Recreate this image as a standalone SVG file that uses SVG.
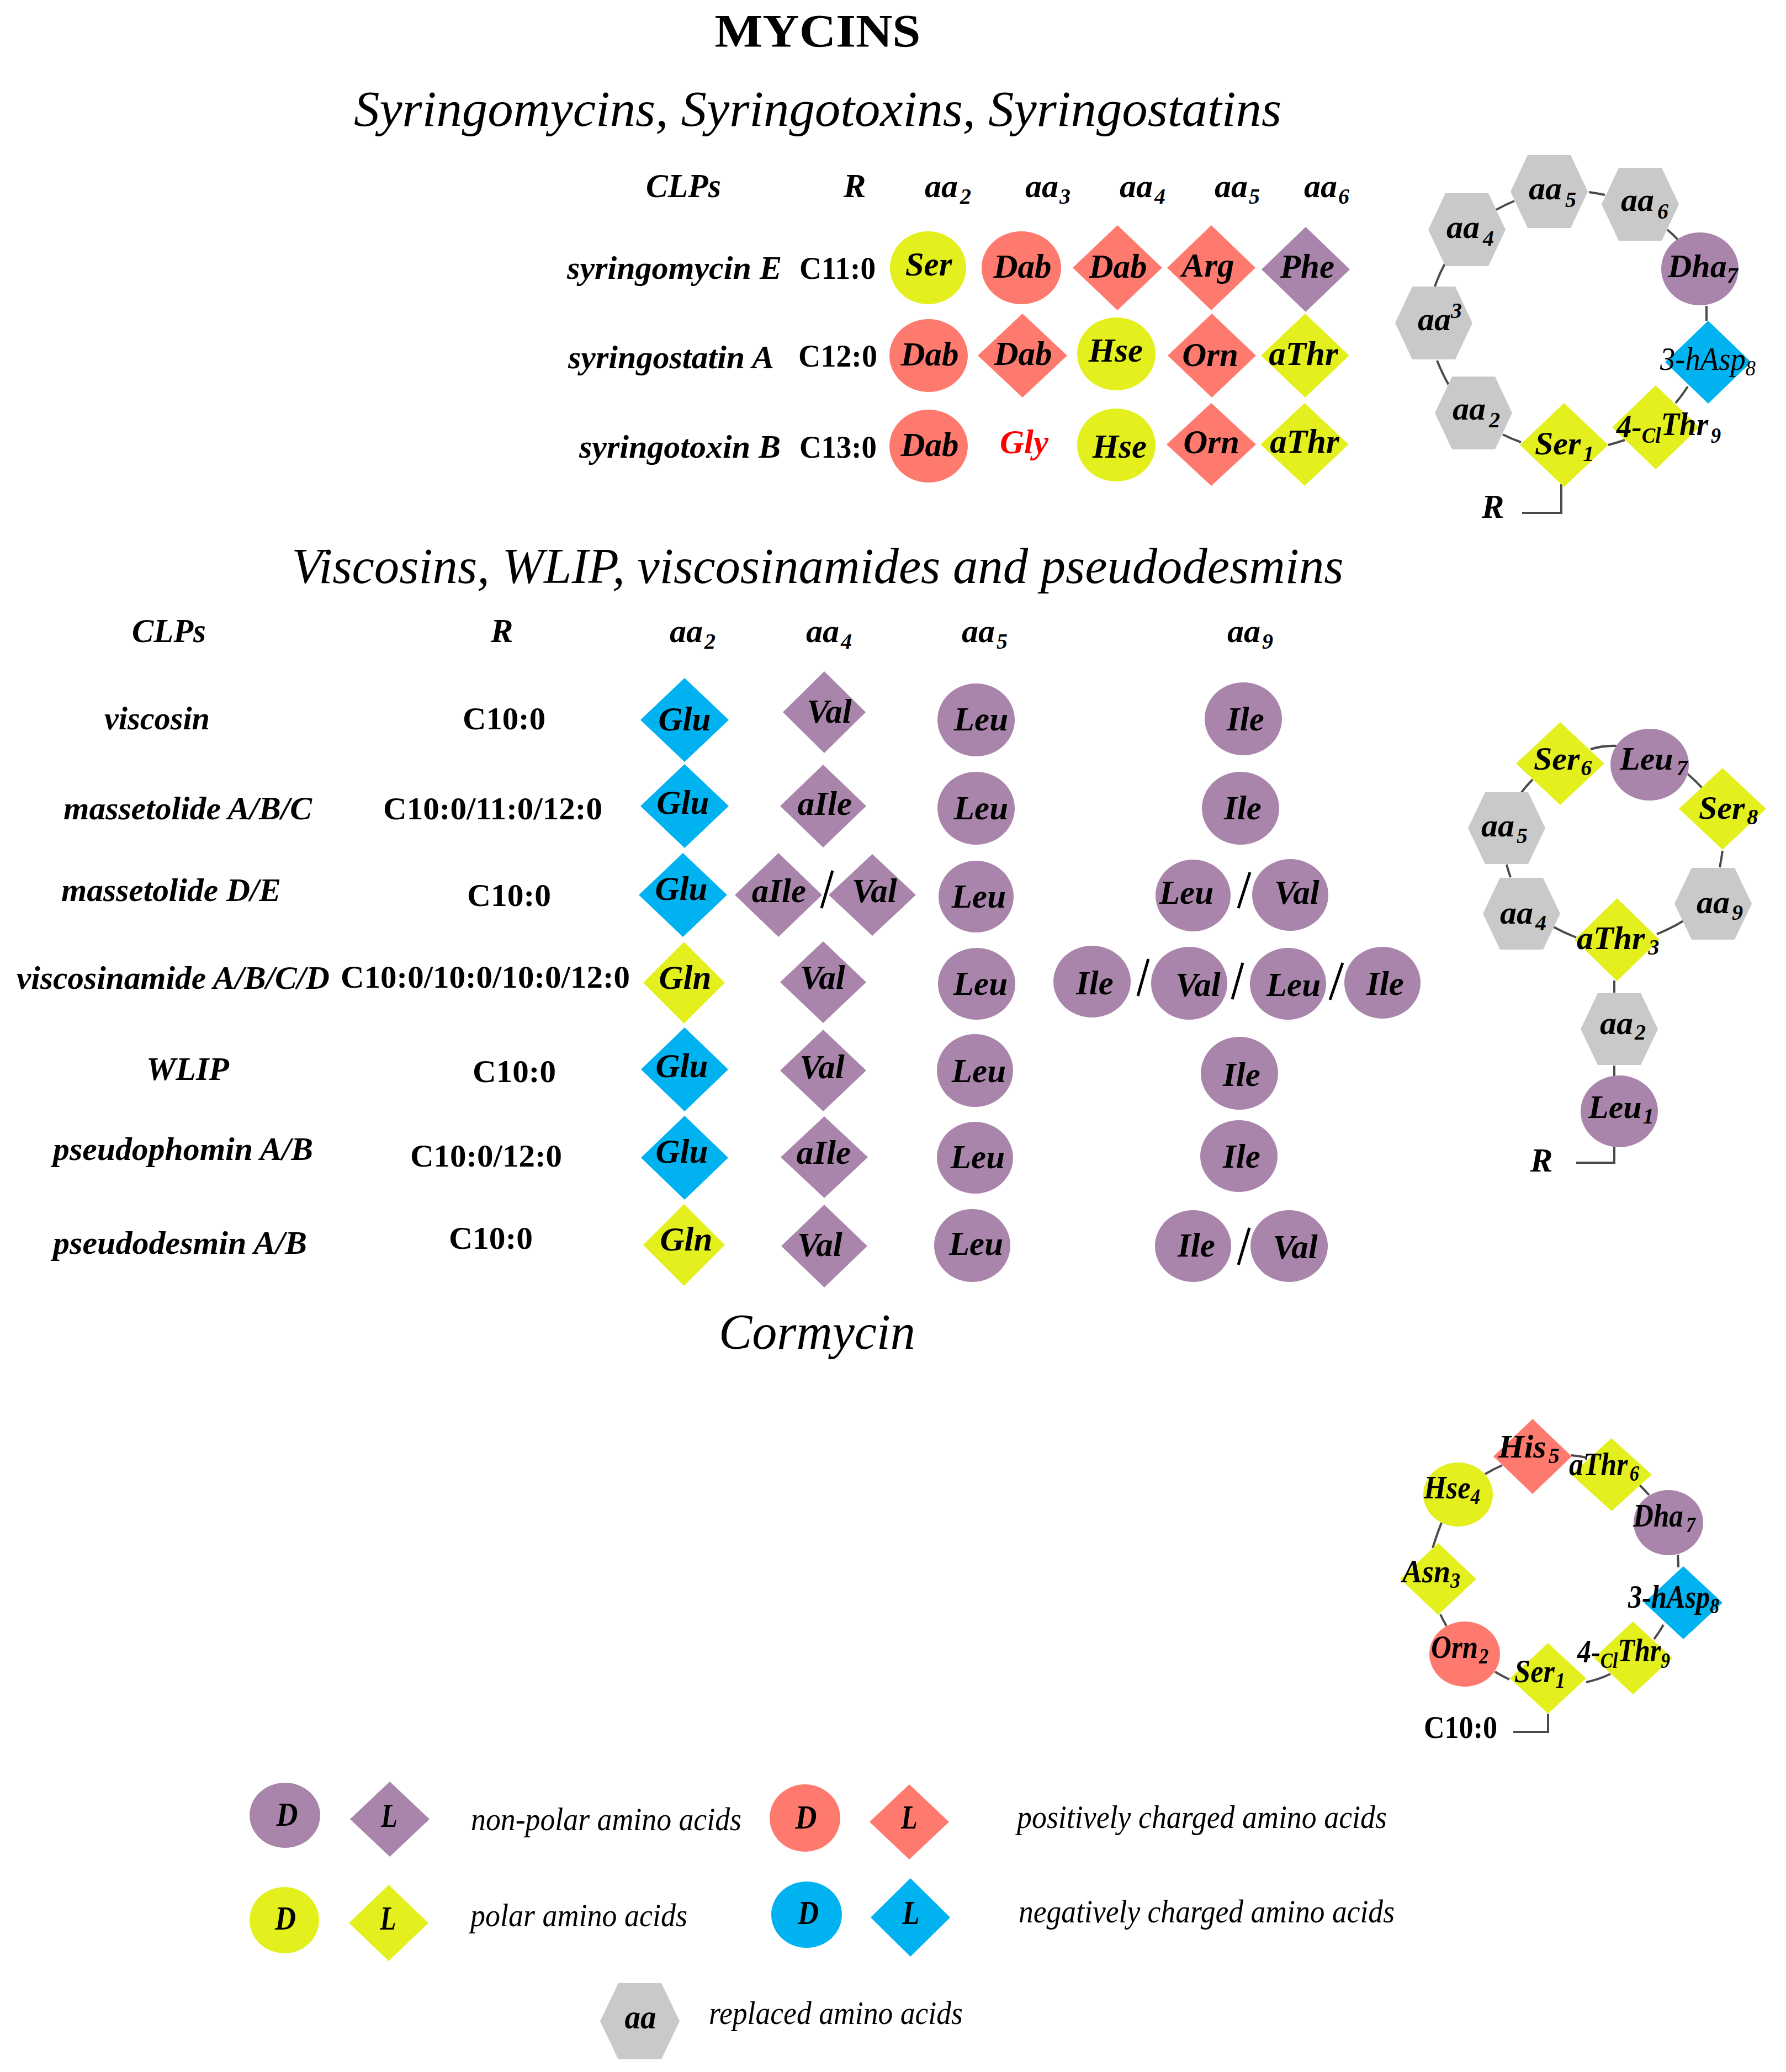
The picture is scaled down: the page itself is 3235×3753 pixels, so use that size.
<svg xmlns="http://www.w3.org/2000/svg" width="3235" height="3753" viewBox="0 0 3235 3753">
<style>
text{font-family:"Liberation Serif","Times New Roman",serif;fill:#000}
.pu{fill:#A985AB}.re{fill:#FF7A6E}.ye{fill:#E3F01E}.bl{fill:#00B2F0}.gr{fill:#C9C9C9}
.h1{font-size:84px;font-weight:bold;text-anchor:middle}
.h2{font-size:92px;font-style:italic;text-anchor:middle}
.n{font-size:61px;font-weight:bold;font-style:italic;text-anchor:middle}
.l{font-size:60px;font-weight:bold;font-style:italic;text-anchor:start}
.r{font-size:57px;font-weight:bold;text-anchor:start}
.c{font-size:60px;font-weight:bold;font-style:italic;text-anchor:start}
.thin{font-weight:normal}
.sub{font-size:40px}
.leg{font-size:60px;font-style:italic;text-anchor:start}
.slash{stroke:#000;stroke-width:5;fill:none}
.conn{stroke:#4a4a4a;stroke-width:4;fill:none}
</style>
<rect width="3235" height="3753" fill="#fff"/>
<text class="h1" x="1481" y="85" textLength="373" lengthAdjust="spacingAndGlyphs">MYCINS</text>
<text class="h2" x="1481" y="228" textLength="1680" lengthAdjust="spacingAndGlyphs">Syringomycins, Syringotoxins, Syringostatins</text>
<text class="h2" x="1481" y="1056" textLength="1905" lengthAdjust="spacingAndGlyphs">Viscosins, WLIP, viscosinamides and pseudodesmins</text>
<text class="h2" x="1480" y="2443" textLength="356" lengthAdjust="spacingAndGlyphs">Cormycin</text>

<g id="connectors">
<path class="conn" d="M2878 348Q2893 350 2907 353M2710 380Q2726 371 2743 364M2617 478Q2606 498 2599 519M2603 653Q2612 676 2624 697M2722 787Q2738 795 2755 801M2913 806Q2928 802 2943 797M3035 730Q3047 716 3057 700M3091 581V554M3020 416Q3031 425 3040 435"/>
<path class="conn" d="M2828 877V929H2757"/>
<path class="conn" d="M2881 1357Q2904 1350 2928 1351M3057 1402Q3071 1414 3083 1427M3120 1541Q3118 1556 3115 1571M3049 1668Q3026 1682 3001 1692M2855 1698Q2834 1690 2814 1679M2736 1589Q2732 1578 2729 1566M2756 1435Q2765 1423 2776 1412M2924 1776V1798M2924 1930V1949"/>
<path class="conn" d="M2924 2078V2106H2855"/>
<path class="conn" d="M2690 2670Q2705 2661 2721 2654M2846 2636Q2860 2637 2873 2640M2970 2690Q2979 2699 2987 2708M3039 2816Q3040 2828 3040 2839M3013 2943Q3005 2957 2996 2969M2917 3032Q2896 3042 2873 3047M2734 3042Q2721 3036 2708 3028M2620 2945Q2614 2935 2609 2924M2595 2804Q2602 2781 2611 2758"/>
<path class="conn" d="M2804 3104V3137H2741"/>
</g>

<g id="syr-header">
<text class="n" x="1238" y="357" textLength="136" lengthAdjust="spacingAndGlyphs">CLPs</text>
<text class="n" x="1548" y="357">R</text>
<text class="c" x="1675" y="357">aa<tspan class="sub" dx="4" dy="12">2</tspan></text>
<text class="c" x="1857" y="357">aa<tspan class="sub" dx="2" dy="12">3</tspan></text>
<text class="c" x="2028" y="357">aa<tspan class="sub" dx="3" dy="12">4</tspan></text>
<text class="c" x="2200" y="357">aa<tspan class="sub" dx="2" dy="12">5</tspan></text>
<text class="c" x="2362" y="357">aa<tspan class="sub" dx="2" dy="12">6</tspan></text>
</g>
<g id="syr-e">
<text class="l" x="1027" y="505" textLength="389" lengthAdjust="spacingAndGlyphs">syringomycin E</text>
<text class="r" x="1448" y="505" textLength="138" lengthAdjust="spacingAndGlyphs">C11:0</text>
</g>
<g id="syr-e-aa2"><ellipse class="ye" cx="1681" cy="485" rx="69" ry="66"/><text class="n" x="1682" y="499">Ser</text></g>
<g id="syr-e-aa3"><ellipse class="re" cx="1850" cy="485" rx="72" ry="66"/><text class="n" x="1852" y="503">Dab</text></g>
<g id="syr-e-aa4"><polygon class="re" points="1943,485 2024,408 2105,485 2024,562"/><text class="n" x="2025" y="503">Dab</text></g>
<g id="syr-e-aa5"><polygon class="re" points="2114,485 2194,408 2274,485 2194,562"/><text class="n" x="2188" y="501">Arg</text></g>
<g id="syr-e-aa6"><polygon class="pu" points="2285,488 2365,411 2445,488 2365,565"/><text class="n" x="2368" y="503">Phe</text></g>

<g id="syr-a">
<text class="l" x="1029" y="667" textLength="373" lengthAdjust="spacingAndGlyphs">syringostatin A</text>
<text class="r" x="1446" y="664" textLength="143" lengthAdjust="spacingAndGlyphs">C12:0</text>
</g>
<g id="syr-a-aa2"><ellipse class="re" cx="1682" cy="644" rx="71" ry="66"/><text class="n" x="1684" y="662">Dab</text></g>
<g id="syr-a-aa3"><polygon class="re" points="1771,644 1852,568 1933,644 1852,720"/><text class="n" x="1853" y="661">Dab</text></g>
<g id="syr-a-aa4"><ellipse class="ye" cx="2022" cy="641" rx="71" ry="66"/><text class="n" x="2021" y="655">Hse</text></g>
<g id="syr-a-aa5"><polygon class="re" points="2115,644 2195,568 2275,644 2195,720"/><text class="n" x="2192" y="663">Orn</text></g>
<g id="syr-a-aa6"><polygon class="ye" points="2284,644 2364,568 2444,644 2364,720"/><text class="n" x="2361" y="661">aThr</text></g>

<g id="syr-b">
<text class="l" x="1049" y="829" textLength="365" lengthAdjust="spacingAndGlyphs">syringotoxin B</text>
<text class="r" x="1448" y="829" textLength="140" lengthAdjust="spacingAndGlyphs">C13:0</text>
</g>
<g id="syr-b-aa2"><ellipse class="re" cx="1682" cy="808" rx="71" ry="66"/><text class="n" x="1684" y="826">Dab</text></g>
<g id="syr-b-aa3"><text class="n" x="1855" y="821" style="fill:#f00">Gly</text></g>
<g id="syr-b-aa4"><ellipse class="ye" cx="2022" cy="806" rx="71" ry="66"/><text class="n" x="2028" y="829">Hse</text></g>
<g id="syr-b-aa5"><polygon class="re" points="2113,805 2194,730 2275,805 2194,880"/><text class="n" x="2194" y="821">Orn</text></g>
<g id="syr-b-aa6"><polygon class="ye" points="2283,805 2363,730 2443,805 2363,880"/><text class="n" x="2363" y="820">aThr</text></g>

<g id="c1-aa5"><polygon class="gr" points="2736,347 2767,281 2845,281 2876,347 2845,413 2767,413"/><text class="c" x="2769" y="361">aa<tspan class="sub" dx="6" dy="14">5</tspan></text></g>
<g id="c1-aa6"><polygon class="gr" points="2901,370 2932,304 3010,304 3041,370 3010,436 2932,436"/><text class="c" x="2936" y="382">aa<tspan class="sub" dx="6" dy="14">6</tspan></text></g>
<g id="c1-aa4"><polygon class="gr" points="2587,416 2618,350 2696,350 2727,416 2696,482 2618,482"/><text class="c" x="2620" y="431">aa<tspan class="sub" dx="6" dy="14">4</tspan></text></g>
<g id="c1-aa3"><polygon class="gr" points="2527,585 2558,519 2636,519 2667,585 2636,651 2558,651"/><text class="c" x="2568" y="598">aa<tspan class="sub" dx="0" dy="-22">3</tspan></text></g>
<g id="c1-aa2"><polygon class="gr" points="2599,748 2630,682 2708,682 2739,748 2708,814 2630,814"/><text class="c" x="2631" y="760">aa<tspan class="sub" dx="6" dy="14">2</tspan></text></g>
<g id="c1-dha"><ellipse class="pu" cx="3079" cy="487" rx="70" ry="66"/><text class="c" x="3021" y="502">Dha<tspan class="sub" dy="10">7</tspan></text></g>
<g id="c1-hasp"><polygon class="bl" points="3016,656 3094,581 3172,656 3094,731"/><text class="c thin" x="3007" y="670" textLength="173" lengthAdjust="spacingAndGlyphs">3-hAsp<tspan class="sub" dy="10">8</tspan></text></g>
<g id="c1-cl"><polygon class="ye" points="2920,774 2999,698 3078,774 2999,850"/><text class="c" x="2928" y="792" textLength="189" lengthAdjust="spacingAndGlyphs">4-<tspan class="sub" dy="10">Cl</tspan><tspan dy="-14">Thr</tspan><tspan class="sub" dx="5" dy="14">9</tspan></text></g>
<g id="c1-ser"><polygon class="ye" points="2753,806 2833,730 2913,806 2833,882"/><text class="c" x="2780" y="823">Ser<tspan class="sub" dx="4" dy="12">1</tspan></text></g>
<g id="c1-r"><text class="n" x="2704" y="938">R</text></g>

<g id="visc-header">
<text class="n" x="306" y="1163" textLength="134" lengthAdjust="spacingAndGlyphs">CLPs</text>
<text class="n" x="909" y="1163">R</text>
<text class="c" x="1213" y="1163">aa<tspan class="sub" dx="3" dy="12">2</tspan></text>
<text class="c" x="1460" y="1163">aa<tspan class="sub" dx="3" dy="12">4</tspan></text>
<text class="c" x="1742" y="1163">aa<tspan class="sub" dx="3" dy="12">5</tspan></text>
<text class="c" x="2223" y="1163">aa<tspan class="sub" dx="3" dy="12">9</tspan></text>
</g>

<g id="viscosin">
<text class="l" x="189" y="1321" textLength="191" lengthAdjust="spacingAndGlyphs">viscosin</text>
<text class="r" x="838" y="1321" textLength="150" lengthAdjust="spacingAndGlyphs">C10:0</text>
</g>
<g id="viscosin-aa2"><polygon class="bl" points="1160,1304 1240,1228 1320,1304 1240,1380"/><text class="n" x="1240" y="1323">Glu</text></g>
<g id="viscosin-aa4"><polygon class="pu" points="1418,1290 1493,1216 1568,1290 1493,1364"/><text class="n" x="1502" y="1309">Val</text></g>
<g id="viscosin-aa5"><ellipse class="pu" cx="1768" cy="1304" rx="70" ry="66"/><text class="n" x="1777" y="1323">Leu</text></g>
<g id="viscosin-aa9"><ellipse class="pu" cx="2252" cy="1302" rx="70" ry="66"/><text class="n" x="2256" y="1323">Ile</text></g>

<g id="massA">
<text class="l" x="115" y="1484" textLength="450" lengthAdjust="spacingAndGlyphs">massetolide A/B/C</text>
<text class="r" x="694" y="1484" textLength="397" lengthAdjust="spacingAndGlyphs">C10:0/11:0/12:0</text>
</g>
<g id="massA-aa2"><polygon class="bl" points="1160,1460 1240,1384 1320,1460 1240,1536"/><text class="n" x="1237" y="1474">Glu</text></g>
<g id="massA-aa4"><polygon class="pu" points="1413,1460 1491,1385 1569,1460 1491,1535"/><text class="n" x="1494" y="1476">aIle</text></g>
<g id="massA-aa5"><ellipse class="pu" cx="1768" cy="1464" rx="70" ry="66"/><text class="n" x="1777" y="1484">Leu</text></g>
<g id="massA-aa9"><ellipse class="pu" cx="2247" cy="1464" rx="70" ry="66"/><text class="n" x="2251" y="1484">Ile</text></g>

<g id="massD">
<text class="l" x="111" y="1632" textLength="398" lengthAdjust="spacingAndGlyphs">massetolide D/E</text>
<text class="r" x="846" y="1641" textLength="152" lengthAdjust="spacingAndGlyphs">C10:0</text>
</g>
<g id="massD-aa2"><polygon class="bl" points="1157,1621 1237,1545 1317,1621 1237,1697"/><text class="n" x="1234" y="1630">Glu</text></g>
<g id="massD-aa4a"><polygon class="pu" points="1331,1621 1410,1545 1489,1621 1410,1697"/><text class="n" x="1411" y="1634">aIle</text></g>
<g id="massD-aa4b"><polygon class="pu" points="1501,1621 1580,1547 1659,1621 1580,1695"/><text class="n" x="1584" y="1634">Val</text></g>
<line class="slash" x1="1488" y1="1645" x2="1508" y2="1577"/>
<g id="massD-aa5"><ellipse class="pu" cx="1768" cy="1624" rx="68" ry="65"/><text class="n" x="1773" y="1644">Leu</text></g>
<g id="massD-aa9a"><ellipse class="pu" cx="2161" cy="1622" rx="68" ry="65"/><text class="n" x="2149" y="1637">Leu</text></g>
<line class="slash" x1="2243" y1="1645" x2="2264" y2="1580"/>
<g id="massD-aa9b"><ellipse class="pu" cx="2337" cy="1621" rx="69" ry="65"/><text class="n" x="2349" y="1637">Val</text></g>

<g id="viscosinamide">
<text class="l" x="30" y="1791" textLength="567" lengthAdjust="spacingAndGlyphs">viscosinamide A/B/C/D</text>
<text class="r" x="617" y="1789" textLength="524" lengthAdjust="spacingAndGlyphs">C10:0/10:0/10:0/12:0</text>
</g>
<g id="viscosinamide-aa2"><polygon class="ye" points="1165,1780 1239,1706 1313,1780 1239,1854"/><text class="n" x="1241" y="1791">Gln</text></g>
<g id="viscosinamide-aa4"><polygon class="pu" points="1413,1779 1491,1705 1569,1779 1491,1853"/><text class="n" x="1490" y="1791">Val</text></g>
<g id="viscosinamide-aa5"><ellipse class="pu" cx="1769" cy="1782" rx="70" ry="65"/><text class="n" x="1776" y="1802">Leu</text></g>
<g id="viscosinamide-aa9a"><ellipse class="pu" cx="1978" cy="1778" rx="70" ry="65"/><text class="n" x="1983" y="1801">Ile</text></g>
<line class="slash" x1="2061" y1="1804" x2="2080" y2="1737"/>
<g id="viscosinamide-aa9b"><ellipse class="pu" cx="2154" cy="1781" rx="69" ry="66"/><text class="n" x="2170" y="1804">Val</text></g>
<line class="slash" x1="2232" y1="1810" x2="2251" y2="1744"/>
<g id="viscosinamide-aa9c"><ellipse class="pu" cx="2333" cy="1782" rx="69" ry="65"/><text class="n" x="2343" y="1804">Leu</text></g>
<line class="slash" x1="2409" y1="1811" x2="2432" y2="1744"/>
<g id="viscosinamide-aa9d"><ellipse class="pu" cx="2504" cy="1780" rx="69" ry="65"/><text class="n" x="2509" y="1802">Ile</text></g>

<g id="wlip">
<text class="l" x="265" y="1956" textLength="150" lengthAdjust="spacingAndGlyphs">WLIP</text>
<text class="r" x="856" y="1960" textLength="151" lengthAdjust="spacingAndGlyphs">C10:0</text>
</g>
<g id="wlip-aa2"><polygon class="bl" points="1161,1937 1240,1861 1319,1937 1240,2013"/><text class="n" x="1235" y="1951">Glu</text></g>
<g id="wlip-aa4"><polygon class="pu" points="1413,1939 1491,1865 1569,1939 1491,2013"/><text class="n" x="1489" y="1953">Val</text></g>
<g id="wlip-aa5"><ellipse class="pu" cx="1766" cy="1939" rx="69" ry="66"/><text class="n" x="1773" y="1960">Leu</text></g>
<g id="wlip-aa9"><ellipse class="pu" cx="2245" cy="1944" rx="70" ry="66"/><text class="n" x="2249" y="1967">Ile</text></g>

<g id="phomin">
<text class="l" x="96" y="2101" textLength="471" lengthAdjust="spacingAndGlyphs">pseudophomin A/B</text>
<text class="r" x="743" y="2113" textLength="275" lengthAdjust="spacingAndGlyphs">C10:0/12:0</text>
</g>
<g id="phomin-aa2"><polygon class="bl" points="1161,2097 1240,2021 1319,2097 1240,2173"/><text class="n" x="1235" y="2106">Glu</text></g>
<g id="phomin-aa4"><polygon class="pu" points="1414,2096 1493,2022 1572,2096 1493,2170"/><text class="n" x="1492" y="2108">aIle</text></g>
<g id="phomin-aa5"><ellipse class="pu" cx="1766" cy="2097" rx="69" ry="65"/><text class="n" x="1771" y="2116">Leu</text></g>
<g id="phomin-aa9"><ellipse class="pu" cx="2244" cy="2094" rx="70" ry="65"/><text class="n" x="2249" y="2115">Ile</text></g>

<g id="desmin">
<text class="l" x="96" y="2271" textLength="460" lengthAdjust="spacingAndGlyphs">pseudodesmin A/B</text>
<text class="r" x="813" y="2262" textLength="152" lengthAdjust="spacingAndGlyphs">C10:0</text>
</g>
<g id="desmin-aa2"><polygon class="ye" points="1165,2255 1239,2181 1313,2255 1239,2329"/><text class="n" x="1243" y="2265">Gln</text></g>
<g id="desmin-aa4"><polygon class="pu" points="1415,2257 1493,2182 1571,2257 1493,2332"/><text class="n" x="1485" y="2275">Val</text></g>
<g id="desmin-aa5"><ellipse class="pu" cx="1761" cy="2256" rx="69" ry="66"/><text class="n" x="1768" y="2273">Leu</text></g>
<g id="desmin-aa9a"><ellipse class="pu" cx="2161" cy="2257" rx="69" ry="65"/><text class="n" x="2167" y="2276">Ile</text></g>
<line class="slash" x1="2243" y1="2291" x2="2263" y2="2224"/>
<g id="desmin-aa9b"><ellipse class="pu" cx="2335" cy="2257" rx="70" ry="65"/><text class="n" x="2346" y="2279">Val</text></g>

<g id="c2-ser6"><polygon class="ye" points="2746,1383 2826,1308 2906,1383 2826,1458"/><text class="c" x="2778" y="1394">Ser<tspan class="sub" dx="2" dy="10">6</tspan></text></g>
<g id="c2-leu7"><ellipse class="pu" cx="2988" cy="1385" rx="71" ry="65"/><text class="c" x="2934" y="1394">Leu<tspan class="sub" dx="6" dy="10">7</tspan></text></g>
<g id="c2-ser8"><polygon class="ye" points="3041,1465 3120,1391 3199,1465 3120,1539"/><text class="c" x="3077" y="1483">Ser<tspan class="sub" dx="4" dy="10">8</tspan></text></g>
<g id="c2-aa5"><polygon class="gr" points="2659,1500 2690,1435 2768,1435 2799,1500 2768,1565 2690,1565"/><text class="c" x="2683" y="1515">aa<tspan class="sub" dx="4" dy="12">5</tspan></text></g>
<g id="c2-aa4"><polygon class="gr" points="2686,1655 2717,1590 2795,1590 2826,1655 2795,1720 2717,1720"/><text class="c" x="2717" y="1673">aa<tspan class="sub" dx="4" dy="12">4</tspan></text></g>
<g id="c2-aa9"><polygon class="gr" points="3033,1637 3064,1572 3142,1572 3173,1637 3142,1702 3064,1702"/><text class="c" x="3073" y="1654">aa<tspan class="sub" dx="4" dy="12">9</tspan></text></g>
<g id="c2-athr"><polygon class="ye" points="2852,1702 2929,1627 3006,1702 2929,1777"/><text class="c" x="2856" y="1719">aThr<tspan class="sub" dx="6" dy="10">3</tspan></text></g>
<g id="c2-aa2"><polygon class="gr" points="2863,1864 2894,1799 2972,1799 3003,1864 2972,1929 2894,1929"/><text class="c" x="2898" y="1873">aa<tspan class="sub" dx="3" dy="10">2</tspan></text></g>
<g id="c2-leu1"><ellipse class="pu" cx="2933" cy="2013" rx="70" ry="65"/><text class="c" x="2877" y="2025">Leu<tspan class="sub" dx="2" dy="10">1</tspan></text></g>
<g id="c2-r"><text class="n" x="2792" y="2122">R</text></g>

<g id="c3-his"><polygon class="re" points="2705,2638 2776,2570 2847,2638 2776,2706"/><text class="c" x="2714" y="2640">His<tspan class="sub" dx="4" dy="10">5</tspan></text></g>
<g id="c3-athr"><polygon class="ye" points="2846,2671 2919,2605 2992,2671 2919,2737"/><text class="c" x="2842" y="2672" textLength="127" lengthAdjust="spacingAndGlyphs">aThr<tspan class="sub" dx="4" dy="10">6</tspan></text></g>
<g id="c3-hse"><ellipse class="ye" cx="2641" cy="2707" rx="63" ry="58"/><text class="c" x="2579" y="2714" textLength="102" lengthAdjust="spacingAndGlyphs">Hse<tspan class="sub" dy="10">4</tspan></text></g>
<g id="c3-dha"><ellipse class="pu" cx="3022" cy="2758" rx="63" ry="59"/><text class="c" x="2958" y="2765" textLength="113" lengthAdjust="spacingAndGlyphs">Dha<tspan class="sub" dx="6" dy="10">7</tspan></text></g>
<g id="c3-asn"><polygon class="ye" points="2536,2860 2605,2795 2674,2860 2605,2925"/><text class="c" x="2540" y="2866" textLength="105" lengthAdjust="spacingAndGlyphs">Asn<tspan class="sub" dy="10">3</tspan></text></g>
<g id="c3-hasp"><polygon class="bl" points="2978,2903 3049,2837 3120,2903 3049,2969"/><text class="c" x="2949" y="2912" textLength="165" lengthAdjust="spacingAndGlyphs">3-hAsp<tspan class="sub" dy="10">8</tspan></text></g>
<g id="c3-orn"><ellipse class="re" cx="2653" cy="2996" rx="64" ry="59"/><text class="c" x="2592" y="3003" textLength="104" lengthAdjust="spacingAndGlyphs">Orn<tspan class="sub" dx="2" dy="10">2</tspan></text></g>
<g id="c3-cl"><polygon class="ye" points="2887,3003 2958,2937 3029,3003 2958,3069"/><text class="c" x="2857" y="3011" textLength="168" lengthAdjust="spacingAndGlyphs">4-<tspan class="sub" dy="10">Cl</tspan><tspan dy="-12">Thr</tspan><tspan class="sub" dy="12">9</tspan></text></g>
<g id="c3-ser"><polygon class="ye" points="2735,3040 2804,2976 2873,3040 2804,3104"/><text class="c" x="2743" y="3047" textLength="92" lengthAdjust="spacingAndGlyphs">Ser<tspan class="sub" dx="2" dy="10">1</tspan></text></g>
<g id="c3-c10"><text class="r" x="2579" y="3148" textLength="133" lengthAdjust="spacingAndGlyphs">C10:0</text></g>

<g id="leg-np">
<ellipse class="pu" cx="516" cy="3288" rx="64" ry="59"/><text class="n" x="520" y="3307" textLength="39" lengthAdjust="spacingAndGlyphs">D</text>
<polygon class="pu" points="634,3295 706,3227 778,3295 706,3363"/><text class="n" x="705" y="3309" textLength="30" lengthAdjust="spacingAndGlyphs">L</text>
<text class="leg" x="853" y="3315" textLength="490" lengthAdjust="spacingAndGlyphs">non-polar amino acids</text>
</g>
<g id="leg-pos">
<ellipse class="re" cx="1458" cy="3293" rx="64" ry="61"/><text class="n" x="1460" y="3312" textLength="39" lengthAdjust="spacingAndGlyphs">D</text>
<polygon class="re" points="1575,3300 1647,3232 1719,3300 1647,3368"/><text class="n" x="1647" y="3312" textLength="30" lengthAdjust="spacingAndGlyphs">L</text>
<text class="leg" x="1842" y="3311" textLength="670" lengthAdjust="spacingAndGlyphs">positively charged amino acids</text>
</g>
<g id="leg-pol">
<ellipse class="ye" cx="515" cy="3478" rx="63" ry="60"/><text class="n" x="517" y="3495" textLength="38" lengthAdjust="spacingAndGlyphs">D</text>
<polygon class="ye" points="632,3483 704,3414 776,3483 704,3552"/><text class="n" x="703" y="3495" textLength="29" lengthAdjust="spacingAndGlyphs">L</text>
<text class="leg" x="852" y="3489" textLength="393" lengthAdjust="spacingAndGlyphs">polar amino acids</text>
</g>
<g id="leg-neg">
<ellipse class="bl" cx="1461" cy="3468" rx="64" ry="60"/><text class="n" x="1464" y="3485" textLength="38" lengthAdjust="spacingAndGlyphs">D</text>
<polygon class="bl" points="1577,3473 1649,3402 1721,3473 1649,3544"/><text class="n" x="1650" y="3485" textLength="31" lengthAdjust="spacingAndGlyphs">L</text>
<text class="leg" x="1845" y="3482" textLength="681" lengthAdjust="spacingAndGlyphs">negatively charged amino acids</text>
</g>
<g id="leg-rep">
<polygon class="gr" points="1087,3661 1120,3592 1198,3592 1231,3661 1198,3730 1120,3730"/><text class="n" x="1160" y="3674" textLength="57" lengthAdjust="spacingAndGlyphs">aa</text>
<text class="leg" x="1284" y="3666" textLength="460" lengthAdjust="spacingAndGlyphs">replaced amino acids</text>
</g>
</svg>
